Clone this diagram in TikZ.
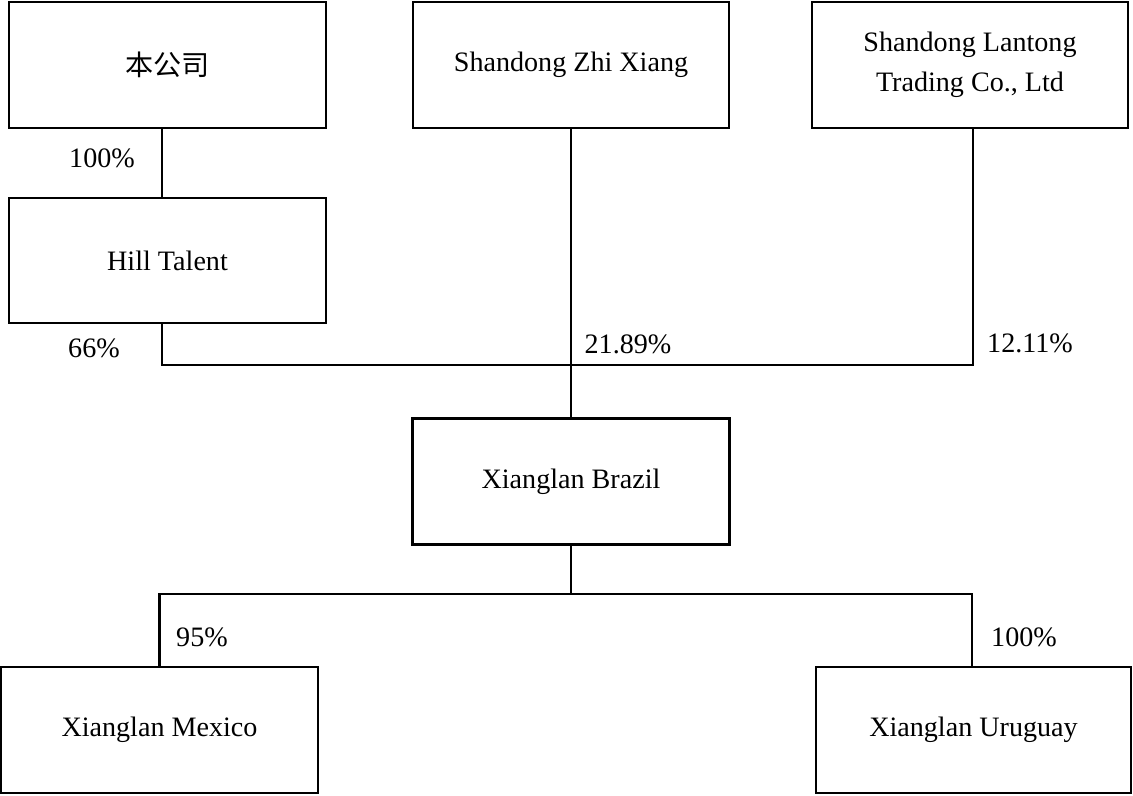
\documentclass[tikz,border=0pt]{standalone}
\usepackage{fontspec}
\setmainfont{Liberation Serif}
\newfontfamily\cjk{Noto Sans CJK SC}
\usetikzlibrary{positioning}

\begin{document}
\begin{tikzpicture}[x=0.02cm,y=-0.02cm,line width=1.3pt,
                    every node/.style={font=\fontsize{16}{23}\selectfont}]
  \tikzstyle{entity}=[draw,line width=1.6pt,minimum width=6.34cm,
                      minimum height=2.52cm,align=center,inner sep=0pt]
  \tikzstyle{share}=[inner sep=0pt]

  \useasboundingbox (0,0) rectangle (1133,795);

  \node[entity]                     (parent)   at (167.5,65)  {{\cjk 本公司}};
  \node[entity,minimum width=6.32cm] (zhixiang) at (571,65)    {Shandong Zhi Xiang};
  \node[entity,minimum width=6.32cm] (lantong)  at (970,65)    {Shandong Lantong\\Trading Co., Ltd};
  \node[entity,minimum height=2.5cm] (hill)     at (167.5,260.5) {Hill Talent};
  \node[entity]                     (brazil)   at (571,481.5) {Xianglan Brazil};
  \node[entity]                     (mexico)   at (159.5,730) {Xianglan Mexico};
  \node[entity,minimum width=6.3cm] (uruguay)  at (973.5,730) {Xianglan Uruguay};

  \coordinate (upper) at (571,365);
  \coordinate (lower) at (571,594);

  \draw ([xshift=-0.11cm]parent.south) -- ([xshift=-0.11cm]hill.north);
  \draw ([xshift=-0.11cm]hill.south) |- (upper) -| ([xshift=0.06cm]lantong.south);
  \draw (zhixiang) -- (brazil);
  \draw (brazil) -- (lower);
  \draw (mexico.north) |- (lower) -| ([xshift=-0.03cm]uruguay.north);

  \node[share] (pctparent)  at (102,158)  {100\%};
  \node[share] (pcthill)    at (94,348)   {66\%};
  \node[share] (pctzhi)     at (628,344)  {21.89\%};
  \node[share] (pctlantong) at (1030,343) {12.11\%};
  \node[share] (pctmexico)  at (202,637)  {95\%};
  \node[share] (pcturuguay) at (1024,637) {100\%};
\end{tikzpicture}
\end{document}
